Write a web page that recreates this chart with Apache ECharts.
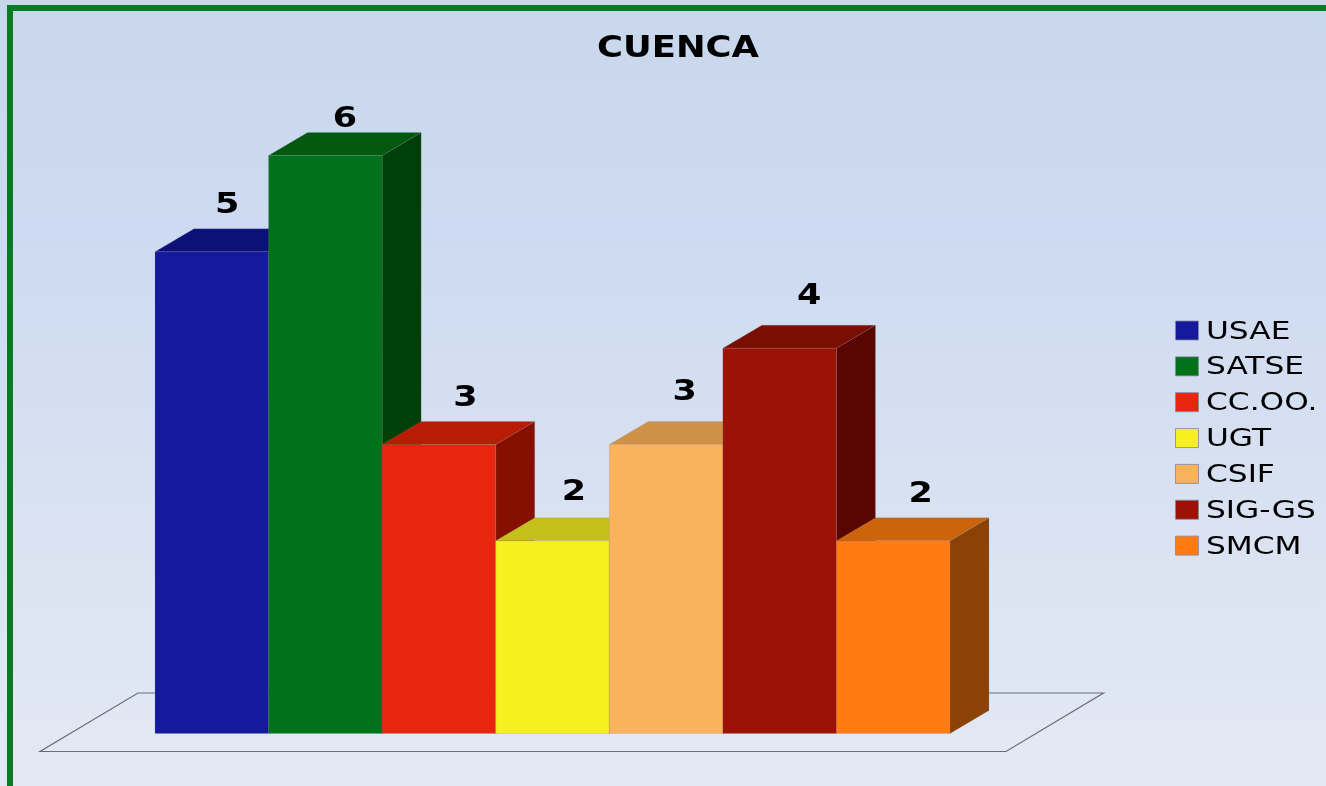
<!DOCTYPE html>
<html>
<head>
<meta charset="utf-8">
<title>CUENCA</title>
<script src="https://cdn.jsdelivr.net/npm/echarts@6/dist/echarts.min.js"></script>
<style>
html, body { margin: 0; padding: 0; background: #dfe6f3; overflow: hidden; }
#myChart { width: 1326px; height: 786px; }
</style>
</head>
<body>
<div id="myChart"></div>
<script>
var categories = ['USAE', 'SATSE', 'CC.OO.', 'UGT', 'CSIF', 'SIG-GS', 'SMCM'];
var values = [5, 6, 3, 2, 3, 4, 2];
var frontColors = ['#151a9c', '#02721a', '#e8260f', '#f7f020', '#fbb25c', '#9c1205', '#ff7c14'];
var topColors = ['#0c1178', '#045910', '#b91c05', '#c6c01a', '#cd9248', '#7a0e00', '#cc640d'];
var sideColors = ['#0a0e60', '#004008', '#851000', '#8f8a10', '#9c6e34', '#590600', '#8c4204'];
// the value labels are not evenly placed in the original
var labelShift = [[-4, -1], [0, 10], [7, 0], [2, -3], [-1, -6], [10, -6], [8, -1]];

var depthX = 39, depthY = 23;
var edge = 'rgba(130,135,160,0.3)';

var myChart = echarts.init(document.getElementById('myChart'));

function renderBar(params, api) {
	var i = params.dataIndex;
	var w = api.size([1, 0])[0];
	var p = api.coord([i, api.value(1)]);
	var base = api.coord([i, 0]);
	var l = p[0] - w / 2, r = p[0] + w / 2, t = p[1], b = base[1];
	return {
		type: 'group',
		children: [{
			type: 'polygon',
			shape: { points: [[r, t], [r + depthX, t - depthY], [r + depthX, b - depthY], [r, b]] },
			style: { fill: sideColors[i], stroke: edge, lineWidth: 0.6 }
		}, {
			type: 'polygon',
			shape: { points: [[l, t], [l + depthX, t - depthY], [r + depthX, t - depthY], [r, t]] },
			style: { fill: topColors[i], stroke: edge, lineWidth: 0.6 }
		}, {
			type: 'rect',
			shape: { x: l, y: t, width: w, height: b - t },
			style: { fill: frontColors[i], stroke: edge, lineWidth: 0.6 }
		}, {
			type: 'text',
			x: p[0] + depthX / 2 + labelShift[i][0],
			y: t - depthY - 22.5 + labelShift[i][1],
			scaleX: 1.25,
			z2: 10,
			style: {
				text: String(api.value(1)),
				fill: '#000',
				font: 'bold 28px "DejaVu Sans"',
				align: 'center',
				verticalAlign: 'middle'
			}
		}]
	};
}

// legend is built by hand because the original text is stretched sideways
var legendItems = [];
categories.forEach(function(name, i) {
	var y = 321 + i * 35.85;
	legendItems.push({
		type: 'rect',
		shape: { x: 1175.5, y: y, width: 23, height: 19 },
		style: { fill: frontColors[i], stroke: 'rgba(130,135,160,0.8)', lineWidth: 1 }
	});
	legendItems.push({
		type: 'text',
		x: 1206,
		y: y + 11,
		scaleX: 1.25,
		style: {
			text: name,
			fill: '#000',
			font: '25px "DejaVu Sans"',
			align: 'left',
			verticalAlign: 'middle'
		}
	});
});

var option = {
	backgroundColor: {
		type: 'linear', x: 0, y: 0, x2: 0, y2: 1,
		colorStops: [
			{ offset: 0, color: '#c9d7eb' },
			{ offset: 0.3, color: '#cddaf1' },
			{ offset: 0.7, color: '#dbe3f2' },
			{ offset: 1, color: '#e3e9f4' }
		]
	},
	animation: false,
	grid: { left: 155, right: 376, top: 155.5, bottom: 52.5 },
	xAxis: { type: 'category', data: categories, show: false },
	yAxis: { type: 'value', min: 0, max: 6, show: false },
	graphic: [{
		type: 'polyline',
		shape: { points: [[10, 786], [10, 8], [1326, 8]] },
		style: { fill: 'none', stroke: '#087a22', lineWidth: 6 }
	}, {
		type: 'polygon',
		shape: { points: [[40, 751.5], [1006, 751.5], [1103.5, 693], [138, 693]] },
		style: { fill: 'none', stroke: '#6a6d7a', lineWidth: 1.2 }
	}, {
		type: 'text',
		x: 678,
		y: 49.5,
		scaleX: 1.18,
		style: {
			text: 'CUENCA',
			fill: '#000',
			font: 'bold 30px "DejaVu Sans"',
			align: 'center',
			verticalAlign: 'middle'
		}
	}, {
		type: 'group',
		children: legendItems
	}],
	series: [{
		type: 'custom',
		renderItem: renderBar,
		encode: { x: 0, y: 1 },
		data: values.map(function(v, i) { return [i, v]; }),
		z: 5
	}]
};

myChart.setOption(option);
</script>
</body>
</html>
